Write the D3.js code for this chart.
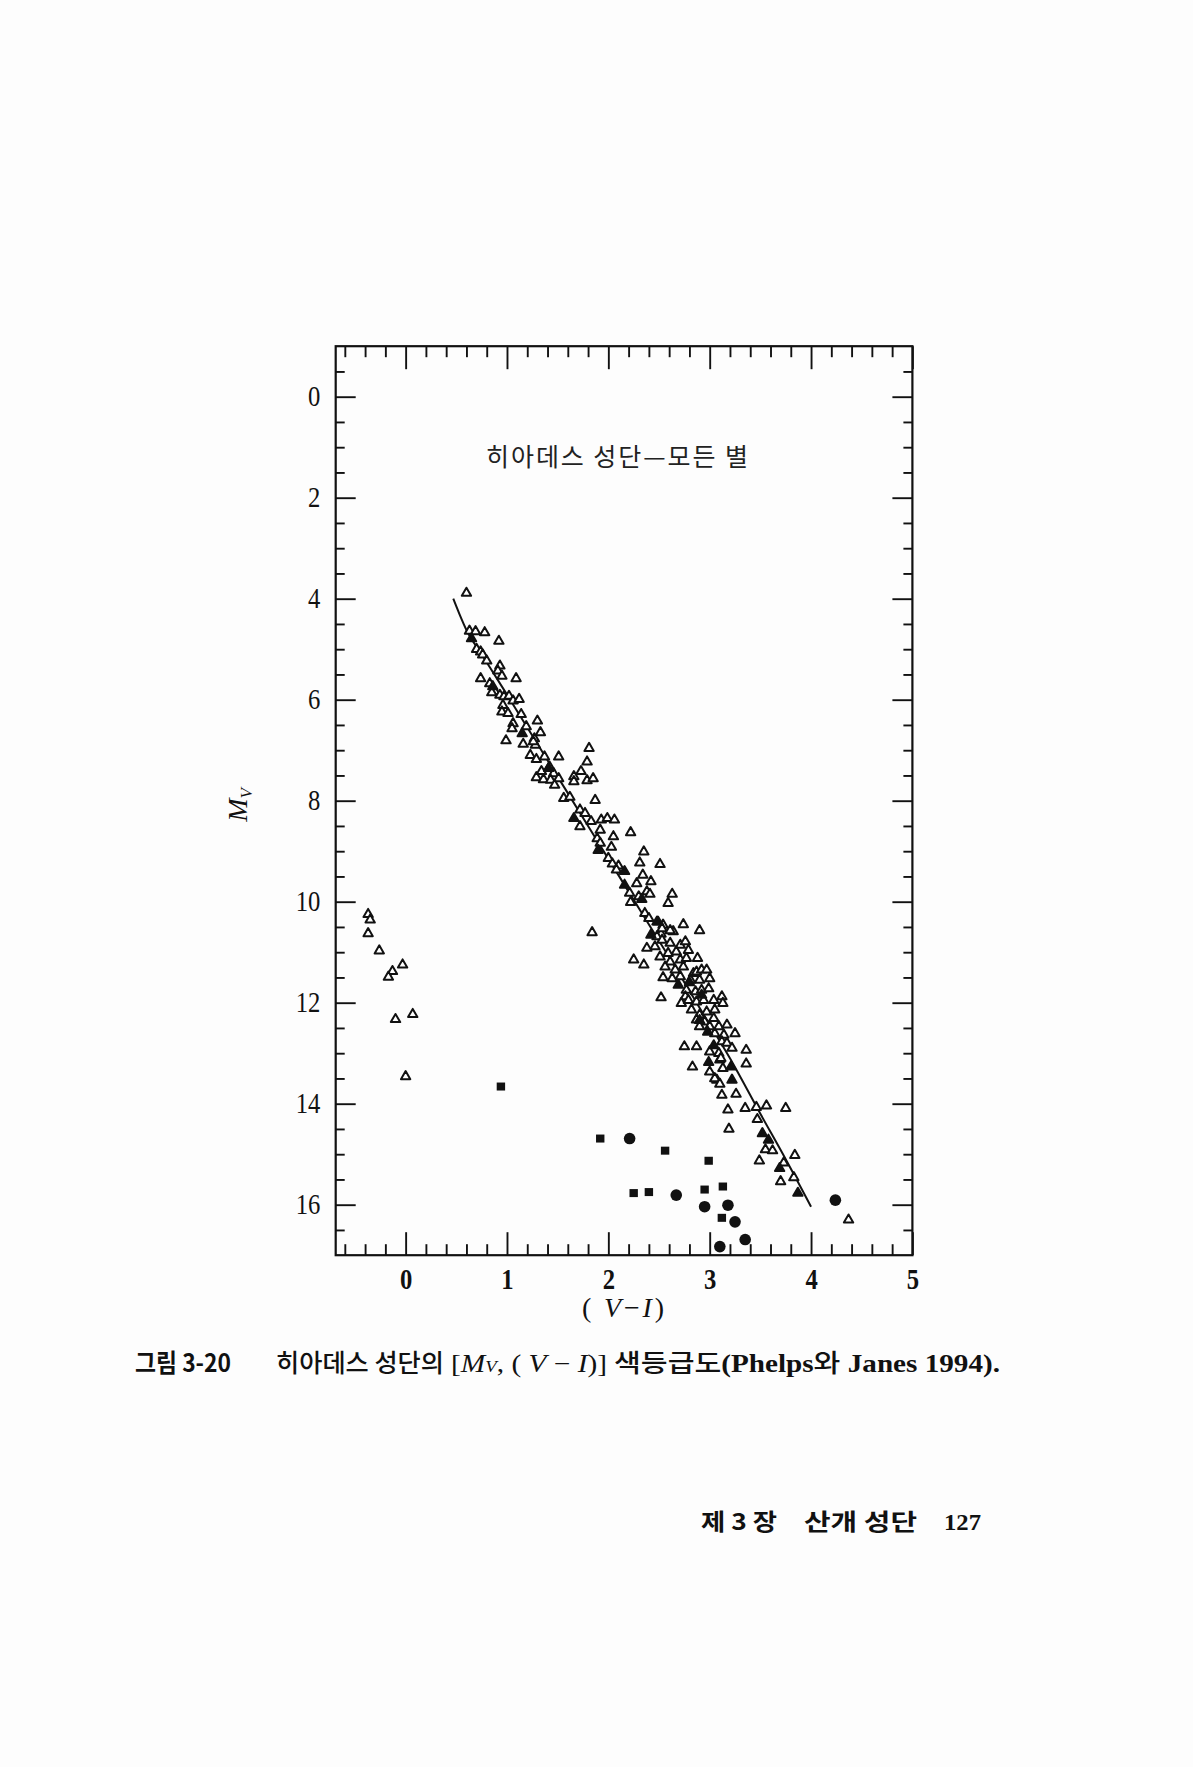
<!DOCTYPE html>
<html>
<head>
<meta charset="utf-8">
<script src="https://cdn.jsdelivr.net/npm/d3@7"></script>
<style>
  body { margin: 0; background: #fdfdfd; }
  svg { display: block; }
</style>
</head>
<body>
<div id="chart"></div>
<script>
// Hyades cluster [Mv, (V-I)] diagram, Phelps & Janes 1994
// values are [V-I, Mv]

let whiteDwarfs = [
  [-0.37, 10.25], [-0.35, 10.36], [-0.37, 10.63], [-0.26, 10.97], [-0.03, 11.25],
  [-0.13, 11.38], [-0.17, 11.49], [0.07, 12.23], [-0.10, 12.33], [0.00, 13.46]
]

let openTriangles = [
  [0.60, 3.89], [0.63, 4.64], [0.69, 4.65], [0.78, 4.67], [0.92, 4.84], [0.70, 5.00],
  [0.74, 5.05], [0.76, 5.11], [0.80, 5.23], [0.93, 5.33], [0.91, 5.43], [0.95, 5.53],
  [0.74, 5.58], [1.09, 5.58], [0.83, 5.68], [0.88, 5.84], [0.85, 5.86], [0.93, 5.91],
  [0.97, 5.94], [1.02, 5.93], [1.06, 6.02], [1.12, 5.99], [0.96, 6.11], [0.95, 6.24],
  [1.01, 6.27], [1.14, 6.29], [1.30, 6.42], [1.06, 6.47], [1.05, 6.57], [1.19, 6.53],
  [1.33, 6.65], [1.27, 6.77], [0.99, 6.81], [1.16, 6.88], [1.28, 6.90], [1.26, 6.83],
  [1.23, 7.10], [1.29, 7.18], [1.37, 7.13], [1.51, 7.13], [1.42, 7.33], [1.79, 7.23],
  [1.81, 6.96], [1.34, 7.42], [1.46, 7.46], [1.73, 7.42], [1.29, 7.54], [1.36, 7.58],
  [1.43, 7.59], [1.51, 7.56], [1.66, 7.52], [1.66, 7.62], [1.79, 7.60], [1.85, 7.56],
  [1.47, 7.69], [1.87, 7.99], [1.56, 7.95], [1.62, 7.93], [1.72, 8.18], [1.77, 8.25],
  [1.72, 8.51], [1.93, 8.38], [1.99, 8.35], [2.06, 8.38], [1.83, 8.41], [1.92, 8.58],
  [1.89, 8.75], [2.22, 8.63], [2.05, 8.71], [1.92, 8.84], [2.03, 8.92], [2.35, 9.01],
  [2.00, 9.14], [2.04, 9.25], [2.31, 9.23], [2.51, 9.26], [2.10, 9.29], [2.08, 9.37],
  [2.34, 9.47], [2.42, 9.60], [2.28, 9.64], [2.21, 9.83], [2.30, 9.90], [2.38, 9.80],
  [2.41, 9.85], [2.63, 9.85], [2.59, 10.03], [2.22, 10.01], [2.36, 10.23], [2.40, 10.33],
  [2.48, 10.40], [2.54, 10.46], [2.52, 10.64], [2.64, 10.59], [1.84, 10.61],
  [2.53, 10.53], [2.61, 10.57], [2.48, 10.69], [2.53, 10.76], [2.46, 10.89], [2.61, 10.82],
  [2.71, 10.86], [2.76, 10.79], [2.79, 10.96], [2.67, 10.99], [2.59, 11.02], [2.51, 11.09],
  [2.61, 11.19], [2.71, 11.15], [2.77, 11.12], [2.56, 11.29], [2.66, 11.35], [2.74, 11.29],
  [2.84, 11.42], [2.87, 11.39], [2.92, 11.35], [2.97, 11.35], [2.90, 11.55], [3.00, 11.52],
  [2.81, 11.55], [2.71, 11.48], [2.63, 11.52], [2.77, 11.75], [2.76, 11.88], [2.86, 11.78],
  [2.92, 11.75], [2.99, 11.72], [2.72, 12.01], [2.79, 11.95], [2.87, 11.98], [2.94, 11.95],
  [3.04, 11.95], [3.12, 11.88], [3.13, 12.01], [2.82, 12.14], [2.90, 12.24], [2.97, 12.18],
  [3.05, 12.14], [2.87, 12.34], [2.95, 12.38], [3.04, 12.31], [2.90, 12.47], [3.00, 12.47],
  [3.09, 12.47], [3.17, 12.44], [3.05, 12.61], [3.14, 12.64], [3.25, 12.61], [3.12, 12.77],
  [3.17, 12.80], [3.22, 12.90], [3.00, 12.97], [3.09, 13.00],
  [2.74, 10.45], [2.90, 10.57], [2.38, 10.92], [2.25, 11.15], [2.35, 11.25], [2.88, 11.12],
  [2.54, 11.50], [2.52, 11.90], [2.75, 12.87], [2.87, 12.87], [3.36, 12.94], [3.36, 13.21],
  [2.83, 13.27], [3.10, 13.13], [3.00, 13.37], [3.07, 13.53], [3.11, 13.10], [3.13, 13.30],
  [3.05, 13.50], [3.10, 13.61], [3.12, 13.83], [3.26, 13.81], [3.18, 14.12], [3.35, 14.09],
  [3.46, 14.07], [3.56, 14.04], [3.75, 14.09], [3.19, 14.50], [3.47, 14.31], [3.55, 14.91],
  [3.62, 14.93], [3.84, 15.02], [3.49, 15.13], [3.73, 15.17], [3.83, 15.46], [3.70, 15.54],
  [4.37, 16.30]
]

let filledTriangles = [
  [0.65, 4.79], [0.86, 5.74], [1.15, 6.67], [1.41, 7.36], [1.66, 8.35], [1.90, 8.98],
  [2.16, 9.40], [2.16, 9.67], [2.33, 9.95], [2.42, 10.66], [2.49, 10.40], [2.69, 11.65],
  [2.80, 11.60], [2.92, 11.85], [2.90, 12.35], [2.98, 12.58], [3.04, 12.85], [2.99, 13.18],
  [3.21, 13.27], [3.22, 13.53], [3.52, 14.59], [3.58, 14.72], [3.69, 15.28], [3.87, 15.77]
]

let squares = [
  [0.94, 13.66], [1.92, 14.69], [2.56, 14.93], [2.99, 15.13], [2.25, 15.77],
  [2.40, 15.75], [2.95, 15.70], [3.13, 15.64], [3.12, 16.26]
]

let circles = [
  [2.21, 14.69], [2.67, 15.81], [2.95, 16.04], [3.18, 16.01], [3.25, 16.34],
  [3.35, 16.69], [3.10, 16.83], [4.24, 15.91]
]

// main sequence fit
let fitLine = [
  [0.47, 4.00], [0.53, 4.30], [0.60, 4.62], [0.75, 5.10], [1.00, 5.90], [1.40, 7.20],
  [1.80, 8.50], [2.20, 9.80], [2.60, 11.10], [2.90, 12.10], [3.20, 13.10], [3.50, 14.20],
  [3.75, 15.10], [4.00, 16.04]
]

let xTicks = [0, 1, 2, 3, 4, 5]
let yTicks = [0, 2, 4, 6, 8, 10, 12, 14, 16]

let width = 1193
let height = 1767
let serif = '"Liberation Serif", "DejaVu Serif", serif'
let hangul = '"Noto Sans CJK KR", sans-serif'

let svg = d3.select('#chart')
  .append('svg')
    .attr('width', width)
    .attr('height', height)

let xScale = d3.scaleLinear().domain([-0.69, 5]).range([335.7, 912.4])
let yScale = d3.scaleLinear().domain([-1, 17]).range([346.2, 1255.2])

let plotLeft = xScale.range()[0]
let plotRight = xScale.range()[1]
let plotTop = yScale.range()[0]
let plotBottom = yScale.range()[1]

let xMinor = d3.range(-6, 50, 2).map(v => v / 10).filter(v => v % 1 !== 0)
let yMinor = d3.range(-1, 34).map(v => v / 2).filter(v => v % 2 !== 0)

function addTicks(axisFn, translate, values, size, padding, labels) {
  let g = svg.append('g')
    .attr('transform', translate)
    .call(axisFn
      .tickValues(values)
      .tickSize(-size)
      .tickPadding(padding)
      .tickFormat(labels ? d3.format('d') : () => ''))
  g.select('.domain').remove()
  g.selectAll('line').attr('stroke', '#111').attr('stroke-width', 1.9)
  return g
}

// minor ticks on all four sides
addTicks(d3.axisBottom(xScale), `translate(0, ${plotBottom})`, xMinor, 11, 0, false)
addTicks(d3.axisTop(xScale), `translate(0, ${plotTop})`, xMinor, 11, 0, false)
addTicks(d3.axisLeft(yScale), `translate(${plotLeft}, 0)`, yMinor, 9, 0, false)
addTicks(d3.axisRight(yScale), `translate(${plotRight}, 0)`, yMinor, 9, 0, false)

// major ticks
let xAxis = addTicks(d3.axisBottom(xScale), `translate(0, ${plotBottom})`, xTicks, 23, 13, true)
addTicks(d3.axisTop(xScale), `translate(0, ${plotTop})`, xTicks, 23, 0, false)
let yAxis = addTicks(d3.axisLeft(yScale), `translate(${plotLeft}, 0)`, yTicks, 20, 18, true)
addTicks(d3.axisRight(yScale), `translate(${plotRight}, 0)`, yTicks, 20, 0, false)

// tall narrow digits like the printed figure
xAxis.selectAll('text')
  .attr('fill', '#111')
  .attr('transform', 'scale(0.85, 1)')
  .style('font-family', serif)
  .style('font-size', '29px')
  .style('font-weight', 'bold')
yAxis.selectAll('text')
  .attr('fill', '#111')
  .attr('transform', 'scale(0.85, 1)')
  .style('font-family', serif)
  .style('font-size', '29px')

// frame
svg.append('rect')
  .attr('x', plotLeft)
  .attr('y', plotTop)
  .attr('width', plotRight - plotLeft)
  .attr('height', plotBottom - plotTop)
  .attr('fill', 'none')
  .attr('stroke', '#111')
  .attr('stroke-width', 2.2)

// fit line
let line = d3.line()
  .x(d => xScale(d[0]))
  .y(d => yScale(d[1]))
  .curve(d3.curveMonotoneX)

svg.append('path')
  .datum(fitLine)
  .attr('d', line)
  .attr('fill', 'none')
  .attr('stroke', '#111')
  .attr('stroke-width', 2)

let triangle = d3.symbol(d3.symbolTriangle).size(38)

function drawTriangles(data, fill) {
  svg.append('g')
    .selectAll('path')
    .data(data)
    .enter().append('path')
      .attr('d', triangle)
      .attr('transform', d => `translate(${xScale(d[0])}, ${yScale(d[1])})`)
      .attr('fill', fill)
      .attr('stroke', '#111')
      .attr('stroke-width', 2)
      .attr('stroke-linejoin', 'round')
}

drawTriangles(whiteDwarfs, '#fff')
drawTriangles(openTriangles, '#fff')
drawTriangles(filledTriangles, '#111')

svg.append('g')
  .selectAll('rect')
  .data(squares)
  .enter().append('rect')
    .attr('x', d => xScale(d[0]) - 4.2)
    .attr('y', d => yScale(d[1]) - 4)
    .attr('width', 8.4)
    .attr('height', 8)
    .attr('fill', '#111')

svg.append('g')
  .selectAll('circle')
  .data(circles)
  .enter().append('circle')
    .attr('cx', d => xScale(d[0]))
    .attr('cy', d => yScale(d[1]))
    .attr('r', 5.8)
    .attr('fill', '#111')

// title inside the plot
svg.append('text')
  .attr('x', 617)
  .attr('y', 466)
  .attr('text-anchor', 'middle')
  .attr('textLength', 262)
  .attr('lengthAdjust', 'spacing')
  .style('font-family', hangul)
  .style('font-size', '25px')
  .style('font-weight', 400)
  .attr('fill', '#222')
  .text('히아데스 성단—모든 별')

// axis titles
let yTitle = svg.append('text')
  .attr('transform', 'translate(247, 805) rotate(-90)')
  .attr('text-anchor', 'middle')
  .style('font-family', serif)
  .style('font-size', '28px')
  .attr('fill', '#111')
yTitle.append('tspan').style('font-style', 'italic').text('M')
yTitle.append('tspan').style('font-style', 'italic').style('font-size', '17px').attr('dy', 5).text('V')

let xTitle = svg.append('text')
  .attr('x', 623)
  .attr('y', 1317)
  .attr('text-anchor', 'middle')
  .attr('textLength', 82)
  .attr('lengthAdjust', 'spacing')
  .style('font-family', serif)
  .style('font-size', '28px')
  .attr('fill', '#111')
xTitle.append('tspan').text('(')
xTitle.append('tspan').style('font-style', 'italic').text(' V')
xTitle.append('tspan').text('−')
xTitle.append('tspan').style('font-style', 'italic').text('I')
xTitle.append('tspan').text(')')

// figure caption, laid out in pieces as in print
let captionY = 1372
function captionPiece(x, length) {
  return svg.append('text')
    .attr('x', x)
    .attr('y', captionY)
    .attr('textLength', length)
    .attr('lengthAdjust', 'spacingAndGlyphs')
    .style('font-size', '25px')
    .attr('fill', '#111')
}
captionPiece(135, 96).style('font-family', hangul).style('font-weight', 700).text('그림 3-20')
captionPiece(276, 168).style('font-family', hangul).style('font-weight', 500).text('히아데스 성단의')

let bracket = captionPiece(451, 156).style('font-family', serif)
bracket.append('tspan').text('[')
bracket.append('tspan').style('font-style', 'italic').text('M')
bracket.append('tspan').style('font-style', 'italic').style('font-size', '16px').text('V')
bracket.append('tspan').text(',  (')
bracket.append('tspan').style('font-style', 'italic').text(' V')
bracket.append('tspan').text(' − ')
bracket.append('tspan').style('font-style', 'italic').text('I')
bracket.append('tspan').text(')]')

let source = captionPiece(614, 386)
source.append('tspan').style('font-family', hangul).style('font-weight', 500).text('색등급도')
source.append('tspan').style('font-family', serif).style('font-weight', 700).text('(Phelps')
source.append('tspan').style('font-family', hangul).style('font-weight', 500).text('와')
source.append('tspan').style('font-family', serif).style('font-weight', 700).text(' Janes 1994).')

// page footer
let footer = [
  { text: '제 3 장', x: 701, len: 76 },
  { text: '산개 성단', x: 804, len: 113 },
  { text: '127', x: 944, len: 37 }
]
svg.append('g')
  .selectAll('text')
  .data(footer)
  .enter().append('text')
    .attr('x', d => d.x)
    .attr('y', 1530)
    .attr('textLength', d => d.len)
    .attr('lengthAdjust', 'spacingAndGlyphs')
    .style('font-family', d => d.text === '127' ? serif : hangul)
    .style('font-size', '23px')
    .style('font-weight', 'bold')
    .attr('fill', '#111')
    .text(d => d.text)
</script>
</body>
</html>
